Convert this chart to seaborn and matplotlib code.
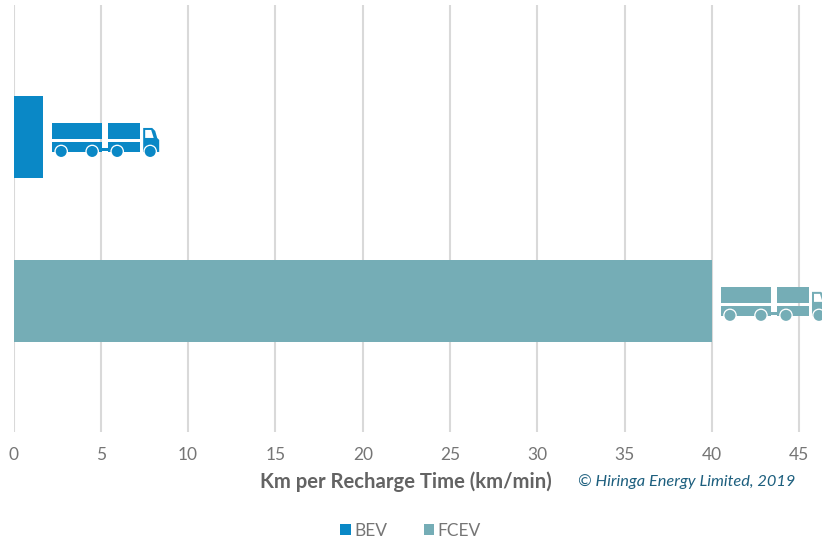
import matplotlib
matplotlib.use("Agg")
import matplotlib.pyplot as plt
from matplotlib.patches import Rectangle, Circle, Polygon
from matplotlib.transforms import Affine2D
import pandas as pd
import seaborn as sns

# Chart data
categories = ["BEV", "FCEV"]
km_per_minute = [1.7, 40.0]
bar_colors = ["#0a88c6", "#75adb6"]
x_ticks = [0, 5, 10, 15, 20, 25, 30, 35, 40, 45]

GREY = "#757575"
DPI = 100

sns.set_theme(style="white")
plt.rcParams["font.family"] = ["Lato", "DejaVu Sans"]

df = pd.DataFrame({"vehicle": categories, "rate": km_per_minute})

fig = plt.figure(figsize=(8.22, 5.39), dpi=DPI)
ax = fig.add_axes([13.5 / 822, 1 - 432 / 539, (822 - 13.5) / 822, (432 - 5) / 539])

sns.barplot(
    data=df, x="rate", y="vehicle", hue="vehicle", palette=bar_colors,
    order=categories, hue_order=categories, dodge=False, width=0.5,
    saturation=1, legend=False, ax=ax, zorder=3, linewidth=0, edgecolor="none",
)

ax.set_xlim(0, 46.3)
ax.set_ylim(1.8, -0.805)
ax.set_xticks(x_ticks)
ax.set_yticks([])
ax.set_ylabel("")
ax.grid(axis="x", color="#d9d9d9", linewidth=1.5, zorder=0)
ax.set_axisbelow(True)
for spine in ax.spines.values():
    spine.set_visible(False)
ax.tick_params(axis="x", length=0, pad=11, labelsize=12.5, labelcolor=GREY)

ax.set_xlabel("Km per Recharge Time (km/min)", fontsize=14.6, fontweight="bold", color="#636363")
ax.xaxis.set_label_coords((406 - 13.5) / (822 - 13.5), -(482 - 432) / 427, transform=ax.transAxes)
ax.xaxis.label.set_verticalalignment("center")

fig.text(578 / 822, 1 - 482 / 539, "© Hiringa Energy Limited, 2019", fontsize=11.8,
         style="italic", color="#1d5f7e", ha="left", va="center")


def draw_truck(axis, value, position, color):
    """Road-train icon placed just past the end of a bar; local units are pixels, y pointing down."""
    fig.canvas.draw()
    px, py = axis.transData.transform((value, position))
    tr = Affine2D().scale(1, -1).translate(px, py)
    parts = [
        Rectangle((9, -14), 50, 16, fc=color),
        Rectangle((9, 5), 50, 10, fc=color),
        Rectangle((65, -14), 32, 16, fc=color),
        Rectangle((65, 5), 32, 10, fc=color),
        Rectangle((59, 11.5), 6, 2.5, fc=color),
        Polygon([(100, -9), (109, -9), (112, -6), (114, 1), (116, 3), (116, 15), (100, 15)], fc=color),
    ]
    for part in parts:
        part.set(transform=tr, linewidth=0, zorder=4)
        axis.add_patch(part)
    axis.add_patch(Polygon([(102, -7), (108, -7), (110.5, 1), (102, 1)], fc="white", lw=0,
                           transform=tr, zorder=5))
    for cx in (18, 49, 74, 107):
        axis.add_patch(Circle((cx, 14.5), 6.8, fc="white", lw=0, transform=tr, zorder=5))
        axis.add_patch(Circle((cx, 14.5), 5.5, fc=color, lw=0, transform=tr, zorder=6))


for i, (value, color) in enumerate(zip(km_per_minute, bar_colors)):
    draw_truck(ax, value, i, color)

handles = [Rectangle((0, 0), 1, 1, fc=c, lw=0) for c in bar_colors]
fig.legend(
    handles, categories, loc="center", bbox_to_anchor=(410.5 / 822, 1 - 531 / 539),
    ncol=2, frameon=False, fontsize=12.5, labelcolor=GREY, handlelength=0.6,
    handleheight=0.6, handletextpad=0.2, columnspacing=2.1,
)

fig.savefig("out.png", dpi=DPI)
